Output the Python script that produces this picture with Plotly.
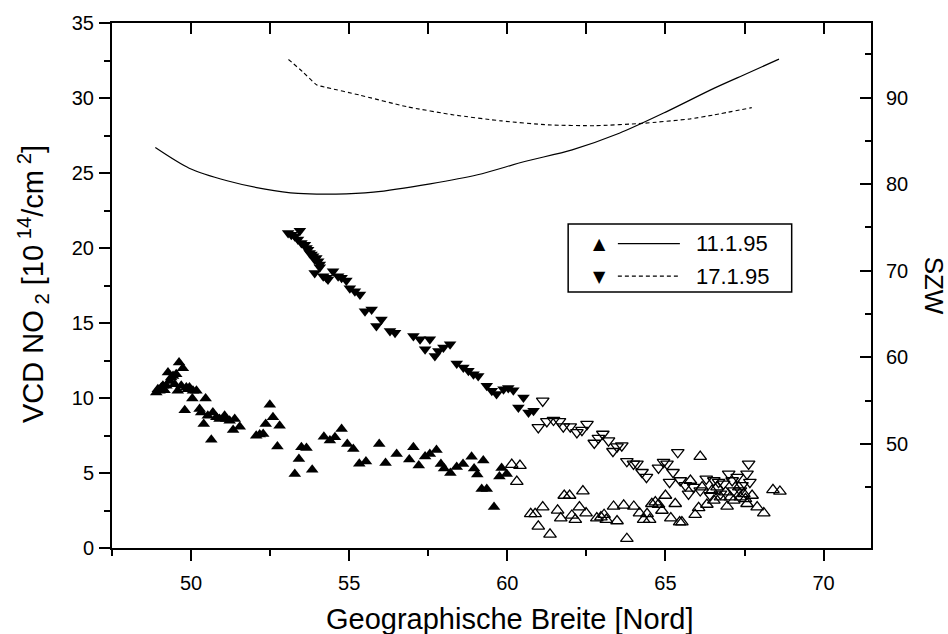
import plotly.graph_objects as go

# ---------------- data ----------------
# SZW (solar zenith angle) curves, right axis
szw1_lat = [48.87, 49.94, 51.14, 52.34, 53.38, 54.58, 55.77, 57.56, 59.06, 60.55, 62.05, 63.54, 65.04, 66.53, 67.58, 68.59]
szw1_val = [84.22, 81.84, 80.39, 79.43, 78.93, 78.85, 79.08, 80.04, 81.08, 82.61, 83.96, 85.87, 88.37, 91.05, 92.77, 94.43]

szw2_lat = [53.08, 53.53, 53.98, 54.28, 55.32, 56.82, 58.31, 59.81, 61.30, 62.79, 64.29, 65.78, 66.53, 67.73]
szw2_val = [94.39, 92.97, 91.44, 91.16, 90.29, 88.94, 87.99, 87.30, 86.84, 86.75, 87.02, 87.53, 87.99, 88.83]

# VCD NO2, 11.1.95 (filled)
up_f_lat = [48.90, 48.95, 49.00, 49.06, 49.11, 49.16, 49.22, 49.27, 49.32, 49.37, 49.43, 49.48, 49.53, 49.58,
            49.62, 49.69, 49.74, 49.80, 49.85, 49.90, 49.95, 50.04, 50.06, 50.17, 50.27, 50.32, 50.40, 50.46,
            50.53, 50.64, 50.69, 50.80, 50.90, 51.06, 51.11, 51.22, 51.33, 51.38, 51.54, 52.06, 52.17, 52.28,
            52.36, 52.49, 52.59, 52.73, 52.80, 53.28, 53.41, 53.49, 53.65, 53.83, 54.20, 54.39, 54.55, 54.76,
            54.94, 55.13, 55.32, 55.53, 55.95, 56.15, 56.50, 56.90, 57.03, 57.20, 57.40, 57.55, 57.76, 57.90,
            58.00, 58.20, 58.40, 58.60, 58.87, 58.95, 59.05, 59.19, 59.24, 59.35, 59.58, 59.75, 59.82, 59.98]
up_f_val = [10.37, 10.59, 10.48, 10.70, 10.81, 10.52, 10.81, 11.70, 11.14, 11.36, 11.47, 10.92, 11.59, 10.48,
            12.36, 10.81, 11.98, 9.19, 10.70, 10.59, 10.70, 9.97, 10.48, 10.48, 9.26, 9.04, 8.26, 9.97,
            8.82, 7.22, 9.04, 8.71, 8.60, 8.82, 8.60, 8.49, 7.87, 8.60, 8.09, 7.49, 7.56, 7.60,
            8.26, 9.55, 8.71, 6.76, 8.15, 4.94, 5.94, 6.71, 6.67, 5.21, 7.42, 7.16, 7.38, 7.93,
            6.94, 6.60, 5.61, 5.76, 6.94, 5.67, 6.27, 5.90, 6.71, 5.50, 6.10, 6.27, 6.53, 5.60,
            5.30, 5.00, 5.40, 5.60, 6.09, 5.30, 4.90, 3.94, 5.83, 3.94, 2.73, 4.76, 5.34, 4.94]

# VCD NO2, 11.1.95 (open)
up_o_lat = [60.14, 60.40, 60.30, 60.74, 60.88, 60.98, 61.12, 61.35, 61.59, 61.69, 61.80, 61.97, 62.04, 62.15,
            62.28, 62.39, 62.49, 62.83, 62.96, 63.06, 63.13, 63.36, 63.47, 63.68, 63.78, 64.00, 64.18, 64.31,
            64.42, 64.50, 64.57, 64.68, 64.78, 64.89, 65.00, 65.17, 65.31, 65.45, 65.52, 65.79, 65.94, 66.05,
            66.10, 66.16, 66.31, 66.47, 66.53, 66.63, 66.74, 66.90, 66.95, 67.05, 67.16, 67.32, 67.37, 67.48,
            67.53, 67.58, 67.74, 67.90, 68.11, 68.40, 68.62]
up_o_val = [5.56, 5.49, 4.43, 2.28, 2.28, 1.44, 2.73, 0.91, 2.51, 1.99, 3.50, 3.50, 2.17, 1.89,
            2.73, 3.79, 2.33, 1.99, 2.06, 2.22, 1.89, 2.77, 1.80, 2.84, 0.62, 2.77, 2.33, 1.89,
            2.28, 1.89, 2.95, 3.06, 2.90, 2.50, 3.50, 1.99, 2.95, 1.73, 1.73, 4.50, 2.22, 2.68,
            6.09, 4.06, 2.90, 3.83, 3.17, 4.06, 3.39, 3.72, 2.77, 3.39, 3.17, 4.06, 3.39, 3.61,
            3.28, 2.95, 3.50, 2.73, 2.33, 3.88, 3.77]

# VCD NO2, 17.1.95 (filled)
dn_f_lat = [53.07, 53.17, 53.28, 53.44, 53.38, 53.49, 53.60, 53.65, 53.70, 53.75, 53.81, 53.86, 53.91, 53.96,
            54.02, 54.07, 53.91, 54.07, 54.18, 54.28, 54.33, 54.49, 54.65, 54.76, 54.91, 55.02, 55.18, 55.34,
            55.50, 55.71, 55.86, 56.02, 56.29, 56.45, 57.03, 57.24, 57.40, 57.55, 57.71, 57.82, 57.98, 58.19,
            58.40, 58.61, 58.77, 58.93, 59.08, 59.35, 59.51, 59.66, 59.88, 60.03, 60.19, 60.51, 60.35, 60.67,
            60.83]
dn_f_val = [21.00, 20.89, 20.78, 21.15, 20.56, 20.33, 20.22, 20.00, 19.89, 19.67, 19.56, 19.45, 19.23, 19.34,
            19.12, 18.90, 18.34, 18.72, 18.12, 18.01, 17.90, 18.45, 18.12, 18.01, 17.83, 17.32, 17.12, 16.90,
            15.79, 15.90, 14.80, 15.24, 14.47, 14.35, 14.13, 13.91, 13.25, 13.91, 12.80, 13.14, 13.36, 13.58,
            12.30, 12.03, 11.81, 11.59, 11.47, 10.81, 10.48, 10.26, 10.59, 10.66, 10.52, 10.04, 9.37, 9.04,
            9.15]

# VCD NO2, 17.1.95 (open)
dn_o_lat = [61.12, 60.98, 61.25, 61.46, 61.65, 61.77, 61.99, 62.20, 62.36, 62.52, 62.75, 62.88, 63.02, 63.20,
            63.34, 63.47, 63.62, 63.78, 63.99, 64.10, 64.26, 64.40, 64.78, 64.94, 65.05, 65.24, 65.13, 65.39,
            65.47, 65.63, 65.73, 65.89, 66.10, 66.29, 66.42, 66.53, 66.68, 66.74, 66.84, 67.00, 67.11, 67.16,
            67.27, 67.37, 67.42, 67.58, 67.63, 67.67]
dn_o_val = [9.81, 8.04, 8.44, 8.53, 8.44, 8.09, 8.09, 7.71, 7.86, 8.26, 7.00, 7.33, 7.60, 7.16,
            6.45, 6.76, 6.82, 5.78, 5.61, 5.61, 5.05, 4.72, 5.34, 5.72, 5.61, 5.05, 4.39, 6.38,
            4.50, 4.17, 3.61, 4.06, 3.83, 4.61, 3.50, 4.50, 4.39, 3.61, 4.28, 4.94, 4.50, 3.83,
            4.72, 3.83, 4.17, 4.94, 5.61, 4.39]

x_ticks = [50, 55, 60, 65, 70]
y_ticks = [0, 5, 10, 15, 20, 25, 30, 35]
szw_ticks = [50, 60, 70, 80, 90]
szw_minor = [45, 55, 65, 75, 85, 95]

legend_labels = ["11.1.95", "17.1.95"]

FONT = "Liberation Sans, Arial, sans-serif"

fig = go.Figure()

fig.add_trace(go.Scatter(x=szw1_lat, y=szw1_val, mode="lines", xaxis="x2", yaxis="y2",
                         line=dict(color="black", width=1.2, shape="spline", smoothing=0.8)))
fig.add_trace(go.Scatter(x=szw2_lat, y=szw2_val, mode="lines", xaxis="x2", yaxis="y2",
                         line=dict(color="black", width=1.1, dash="4px,3px", shape="spline", smoothing=0.5)))

msize = 11
fig.add_trace(go.Scatter(x=up_f_lat, y=up_f_val, mode="markers",
                         marker=dict(symbol="triangle-up", size=msize, color="black")))
fig.add_trace(go.Scatter(x=up_o_lat, y=up_o_val, mode="markers",
                         marker=dict(symbol="triangle-up-open", size=msize, color="black",
                                     line=dict(width=1.3, color="black"))))
fig.add_trace(go.Scatter(x=dn_f_lat, y=dn_f_val, mode="markers",
                         marker=dict(symbol="triangle-down", size=msize, color="black")))
fig.add_trace(go.Scatter(x=dn_o_lat, y=dn_o_val, mode="markers",
                         marker=dict(symbol="triangle-down-open", size=msize, color="black",
                                     line=dict(width=1.3, color="black"))))

axis_common = dict(showgrid=False, zeroline=False, showline=True, linecolor="black", linewidth=2,
                   tickcolor="black", tickwidth=2, tickfont=dict(family=FONT, size=20, color="black"))

fig.update_layout(
    width=948, height=634,
    margin=dict(l=112, r=77, t=21, b=86),
    paper_bgcolor="white", plot_bgcolor="white",
    showlegend=False,
    font=dict(family=FONT, color="black"),
    xaxis=dict(range=[47.5, 71.5], tickmode="array", tickvals=x_ticks, ticks="outside", ticklen=11,
               minor=dict(dtick=2.5, tick0=0, ticks="outside", ticklen=6, tickwidth=2, tickcolor="black"),
               ticklabelstandoff=5, **axis_common),
    xaxis2=dict(range=[47.5, 71.5], overlaying="x", side="top", anchor="y2", ticks="inside", ticklen=11,
                tickmode="linear", tick0=0, dtick=2.5, showticklabels=False, **axis_common),
    yaxis=dict(range=[0, 35], tickmode="array", tickvals=y_ticks, ticks="outside", ticklen=11,
               minor=dict(dtick=2.5, tick0=0, ticks="outside", ticklen=6, tickwidth=2, tickcolor="black"),
               ticklabelstandoff=1, **axis_common),
    yaxis2=dict(range=[38, 98.6], overlaying="y", side="right", anchor="x2", tickmode="array",
                tickvals=szw_ticks, ticks="inside", ticklen=11, ticklabelposition="outside",
                minor=dict(tickmode="array", tickvals=szw_minor, ticks="inside", ticklen=6, tickwidth=2,
                           tickcolor="black"),
                ticklabelstandoff=9, **axis_common),
)

# axis titles
fig.add_annotation(text="Geographische Breite [Nord]", xref="paper", yref="paper", x=0.524, y=-0.136,
                   xanchor="center", yanchor="middle", showarrow=False,
                   font=dict(family=FONT, size=29, color="black"))
fig.add_annotation(text="VCD NO<sub> 2</sub> [10<sup> 14</sup>/cm<sup> 2</sup>]", xref="paper", yref="paper",
                   x=-0.104, y=0.503, xanchor="center", yanchor="middle", textangle=-90, showarrow=False,
                   font=dict(family=FONT, size=29, color="black"))
fig.add_annotation(text="SZW", xref="paper", yref="paper", x=1.0835, y=0.499,
                   xanchor="center", yanchor="middle", textangle=90, showarrow=False,
                   font=dict(family=FONT, size=26, color="black"))

# custom legend
fig.add_shape(type="rect", xref="paper", yref="paper", x0=0.601, x1=0.8955, y0=0.4874, y1=0.617,
              line=dict(color="black", width=1.5), fillcolor="white", layer="below")
rows_y = [0.5798, 0.5178]
symbols = ["▲", "▼"]
dashes = ["solid", "4px,3px"]
for label, yy, sym, dsh in zip(legend_labels, rows_y, symbols, dashes):
    fig.add_annotation(text=sym, xref="paper", yref="paper", x=0.6418, y=yy, xanchor="center",
                       yanchor="middle", showarrow=False, font=dict(family="DejaVu Sans", size=16, color="black"))
    fig.add_shape(type="line", xref="paper", yref="paper", x0=0.6665, x1=0.7482, y0=yy, y1=yy,
                  line=dict(color="black", width=1.1, dash=dsh))
    fig.add_annotation(text=label, xref="paper", yref="paper", x=0.7666, y=yy, xanchor="left",
                       yanchor="middle", showarrow=False, font=dict(family=FONT, size=22, color="black"))

fig.write_html("out.html")
